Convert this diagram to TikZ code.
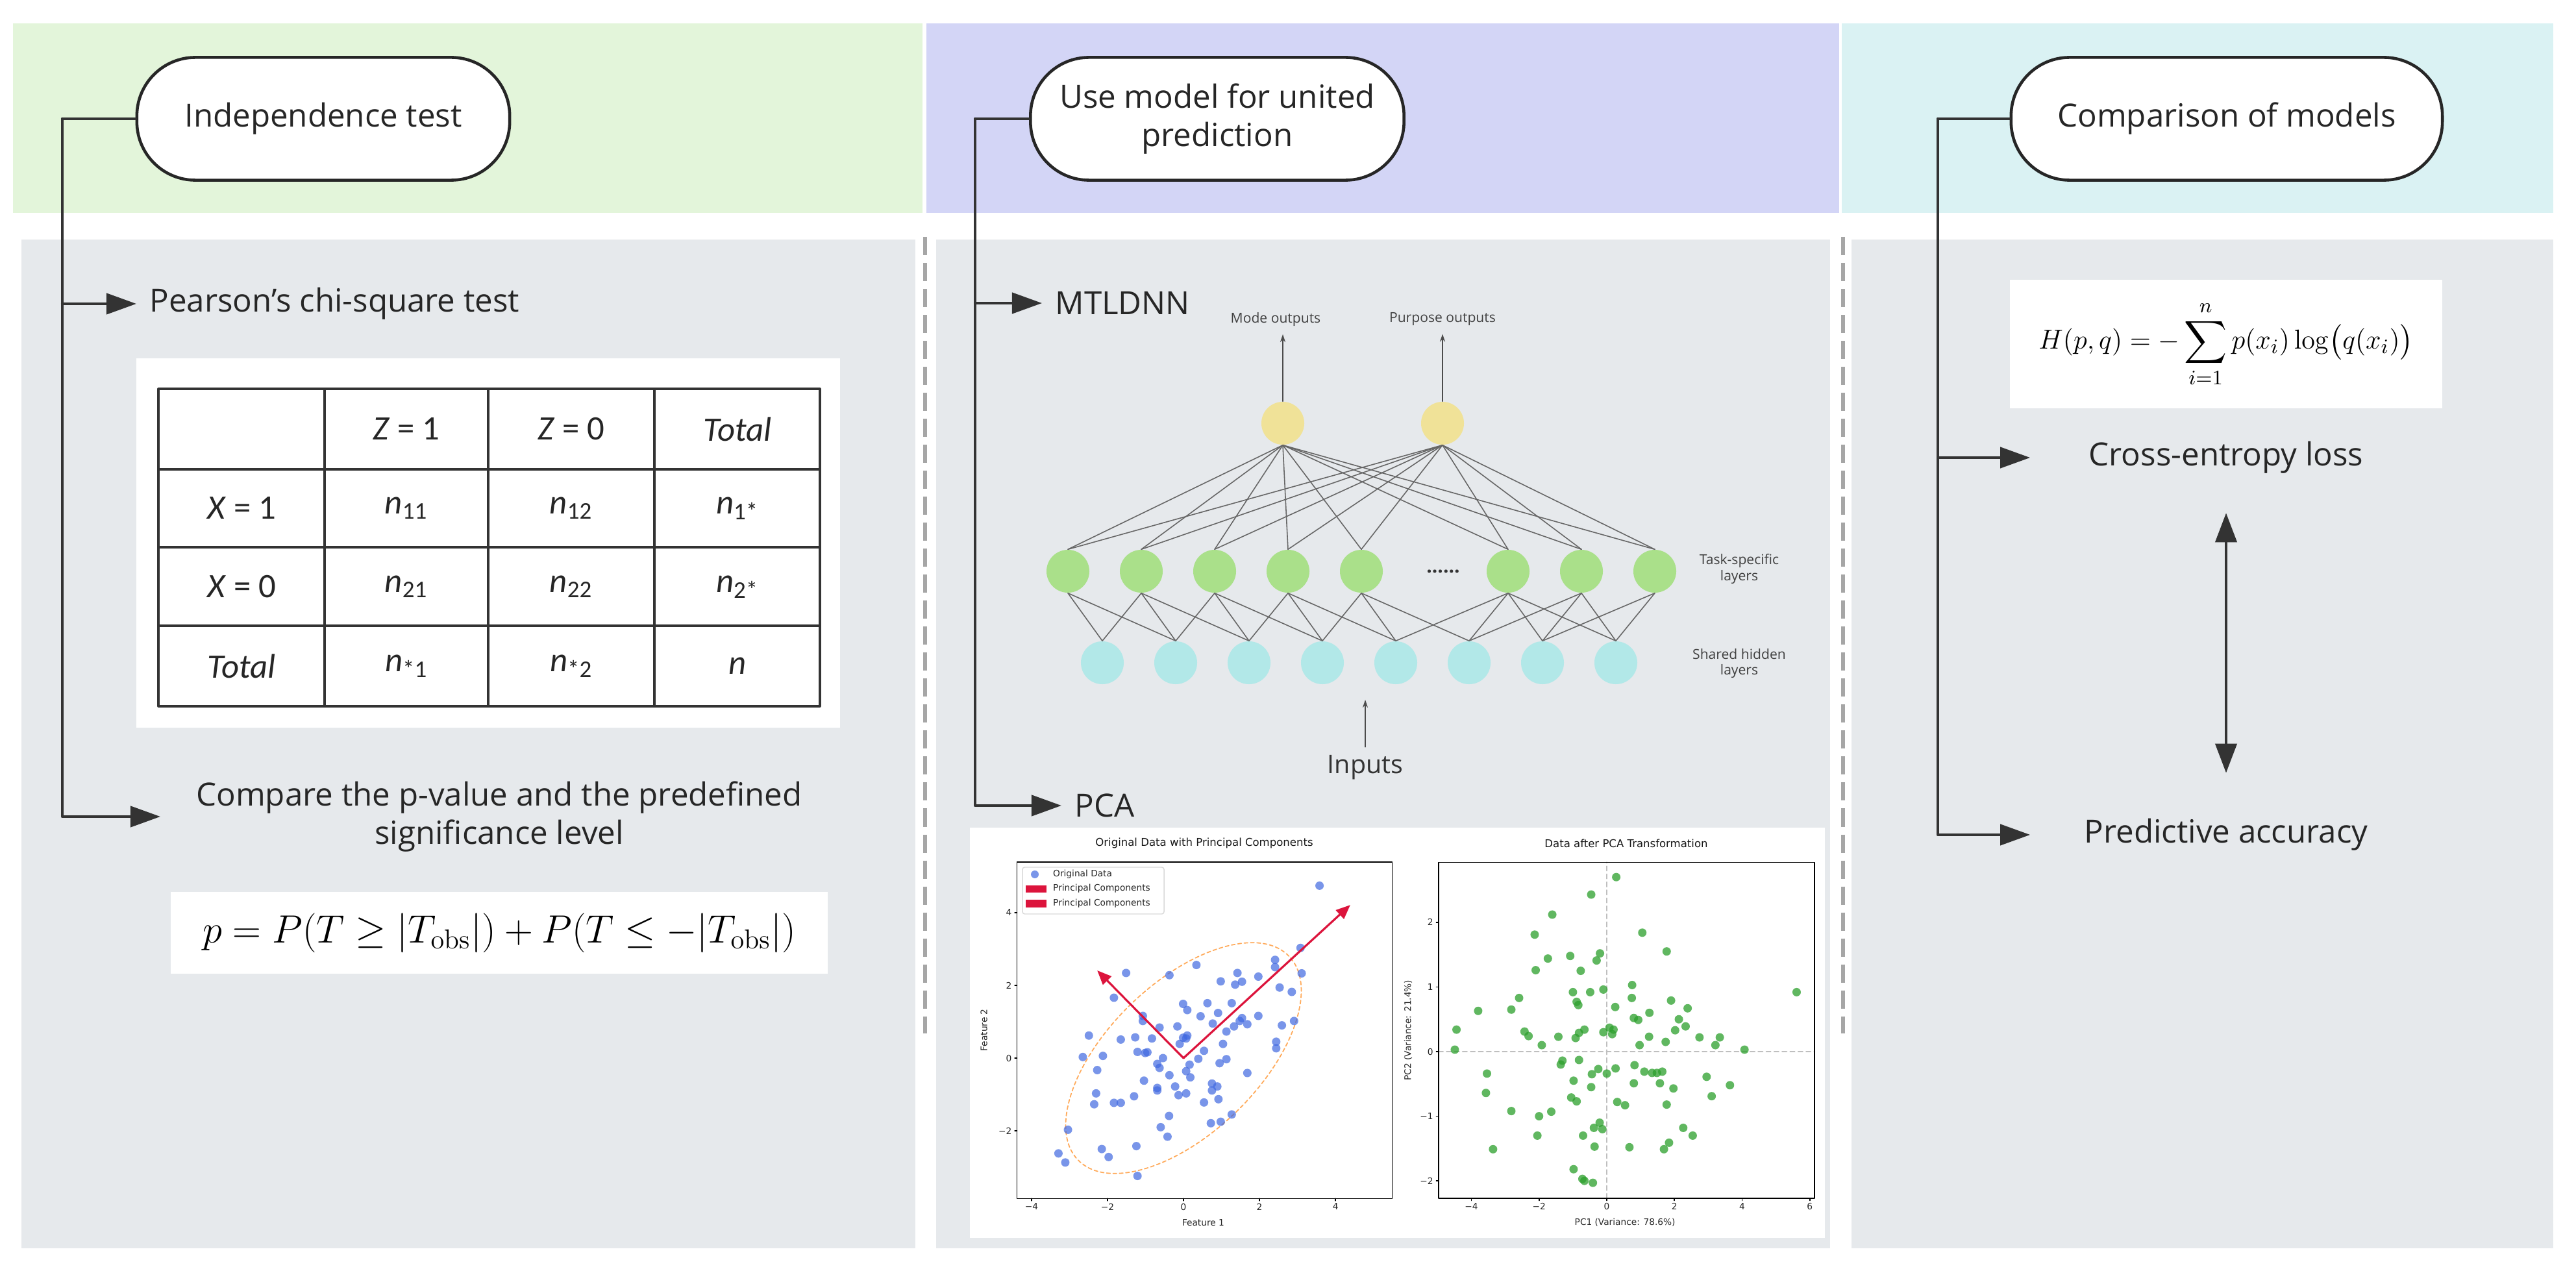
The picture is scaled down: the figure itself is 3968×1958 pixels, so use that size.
\documentclass[tikz,border=0pt]{standalone}
\usepackage{amsmath,amssymb}
\usepackage[no-math]{fontspec}
\setmainfont{Open Sans}
\newfontfamily\tabfont{Carlito}
\newfontfamily\plotfont{DejaVu Sans}
\usetikzlibrary{arrows.meta}

\definecolor{hdgreen}{RGB}{227,245,218}
\definecolor{hdblue}{RGB}{211,213,246}
\definecolor{hdcyan}{RGB}{218,242,243}
\definecolor{panelgray}{RGB}{230,233,236}
\definecolor{nnyellow}{RGB}{240,226,152}
\definecolor{nngreen}{RGB}{170,224,138}
\definecolor{nncyan}{RGB}{178,232,232}
\definecolor{ptblue}{RGB}{65,105,225}
\definecolor{ptgreen}{RGB}{44,160,44}
\definecolor{pcred}{RGB}{220,20,60}
\definecolor{ellorange}{RGB}{255,170,90}

\begin{document}
\begin{tikzpicture}[x=0.01cm,y=-0.01cm,line cap=round,line join=round,
		topic/.style={draw=black!85,line width=1.3pt,fill=white,rounded corners=0.9cm,minimum height=1.89cm,align=center,text=black!85,font=\fontsize{14}{17}\selectfont},
		trunk/.style={draw=black!80,line width=1.2pt},
		branch/.style={trunk,-{Triangle[length=0.46cm,width=0.32cm]}},
		itemtext/.style={text=black!85,font=\fontsize{14}{17}\selectfont,inner xsep=0.2cm,inner ysep=0.1cm,align=center},
		divider/.style={draw=black!35,line width=1.6pt,dash pattern=on 0.28cm off 0.12cm,line cap=butt},
		cell/.style={font=\tabfont\fontsize{15}{18}\selectfont,text=black!85},
		tabline/.style={draw=black!80,line width=0.9pt},
		neuron/.style={circle,minimum size=0.66cm,inner sep=0pt},
		wire/.style={draw=black!60,line width=0.45pt},
		nnarrow/.style={draw=black!70,line width=0.45pt,-{Stealth[length=0.12cm,width=0.08cm]}},
		nntext/.style={text=black!75,font=\fontsize{6}{7.1}\selectfont,align=center},
		plottext/.style={text=black!85,font=\plotfont\fontsize{3.9}{4.7}\selectfont,inner sep=1pt},
		plottitle/.style={text=black!90,font=\plotfont\fontsize{4.7}{5.6}\selectfont},
		plotframe/.style={draw=black,line width=0.45pt},
		bluedot/.style={fill=ptblue,fill opacity=0.7},
		greendot/.style={fill=ptgreen,fill opacity=0.75},
		pcarrow/.style={draw=pcred,line width=0.9pt,-{Triangle[length=0.22cm,width=0.18cm]}}]%three columns
	\fill[white] (0,0) rectangle (3968,1958);
	\useasboundingbox (0,0) rectangle (3968,1958);
	\fill[hdgreen] (20,36) rectangle (1421,328);
	\fill[hdblue] (1427,36) rectangle (2833,328);
	\fill[hdcyan] (2837,36) rectangle (3933,328);
	\fill[panelgray] (33,369) rectangle (1410,1923);
	\fill[panelgray] (1442,369) rectangle (2819,1923);
	\fill[panelgray] (2852,369) rectangle (3933,1923);
	\draw[divider] (1425,365) -- (1425,1592);
	\draw[divider] (2839,365) -- (2839,1592);

	% independence test
	\node[topic,minimum width=5.74cm] (indep) at (498,183) {Independence test};
	\coordinate (trunkL) at (96,183);
	\node[itemtext,anchor=west] (pearson) at (210,468) {Pearson's chi-square test};
	\node[itemtext,minimum width=10.42cm] (pvalue) at (769,1258) {Compare the p-value and the predefined\\significance level};
	\draw[trunk] (indep.west) -- (trunkL);
	\draw[branch] (trunkL) |- (pvalue.west);
	\draw[branch] (trunkL |- pearson.west) -- (pearson.west);

	\fill[white] (210,552) rectangle (1294,1121);
	\draw[tabline] (244,599) rectangle (1263,1088);
	\foreach \x in {500,752,1008}
		\draw[tabline] (\x,599) -- (\x,1088);
	\foreach \y in {723,843,964}
		\draw[tabline] (244,\y) -- (1263,\y);
	\node[cell] (zone) at (626,661) {\textit{Z} = 1};
	\node[cell] (zzero) at (880,661) {\textit{Z} = 0};
	\node[cell] (ztot) at (1136,661) {\textit{Total}};
	\node[cell] (xone) at (372,783) {\textit{X} = 1};
	\node[cell] (n11) at (626,783) {\textit{n}\textsubscript{11}};
	\node[cell] (n12) at (880,783) {\textit{n}\textsubscript{12}};
	\node[cell] (n1s) at (1136,783) {\textit{n}\textsubscript{1*}};
	\node[cell] (xzero) at (372,904) {\textit{X} = 0};
	\node[cell] (n21) at (626,904) {\textit{n}\textsubscript{21}};
	\node[cell] (n22) at (880,904) {\textit{n}\textsubscript{22}};
	\node[cell] (n2s) at (1136,904) {\textit{n}\textsubscript{2*}};
	\node[cell] (xtot) at (372,1026) {\textit{Total}};
	\node[cell] (ns1) at (626,1026) {\textit{n}\textsubscript{*1}};
	\node[cell] (ns2) at (880,1026) {\textit{n}\textsubscript{*2}};
	\node[cell] (nall) at (1136,1026) {\textit{n}};

	\node[fill=white,minimum width=10.12cm,minimum height=1.25cm,font=\fontsize{17}{20}\selectfont] (pform) at (769,1437)
		{$p = P(T \geq |T_{\mathrm{obs}}|) + P(T \leq -|T_{\mathrm{obs}}|)$};

	% united prediction
	\node[topic,minimum width=5.75cm] (united) at (1875,183) {Use model for united\\prediction};
	\coordinate (trunkM) at (1502,183);
	\node[itemtext,anchor=west] (mtl) at (1605,467) {MTLDNN};
	\node[itemtext,anchor=west] (pca) at (1635,1241) {PCA};
	\draw[trunk] (united.west) -- (trunkM);
	\draw[branch] (trunkM) |- (pca.west);
	\draw[branch] (trunkM |- mtl.west) -- (mtl.west);

	\node[neuron,fill=nnyellow] (y1) at (1976,652) {};
	\node[neuron,fill=nnyellow] (y2) at (2222,652) {};
	\foreach \i/\x in {1/1645,2/1758,3/1871,4/1984,5/2097,6/2323,7/2436,8/2549}
		\node[neuron,fill=nngreen] (g\i) at (\x,880) {};
	\foreach \i in {1,...,8}
		\node[neuron,fill=nncyan] (c\i) at ({1698+113*(\i-1)},1021) {};
	\node[font=\fontsize{8.5}{10}\selectfont\bfseries,text=black!80] (gdots) at (2223,880) {......};
	\foreach \o in {y1,y2}
		\foreach \i in {1,...,8}
			\draw[wire] (\o.south) -- (g\i.north);
	\foreach \i/\j in {1/1,1/2,2/1,2/2,2/3,3/2,3/3,3/4,4/3,4/4,4/5,5/4,5/5,5/6,6/5,6/6,6/7,6/8,7/6,7/7,7/8,8/7,8/8}
		\draw[wire] (g\i.south) -- (c\j.north);
	\node[nntext] (modeout) at (1965,492) {Mode outputs};
	\node[nntext] (purpout) at (2222,492) {Purpose outputs};
	\draw[nnarrow] (y1.north) -- (y1.north |- modeout.south);
	\draw[nnarrow] (y2.north) -- (y2.north |- purpout.south);
	\node[nntext] (tasklbl) at (2679,876) {Task-specific\\layers};
	\node[nntext] (sharedlbl) at (2679,1022) {Shared hidden\\layers};
	\node[text=black!80,font=\fontsize{11.2}{13}\selectfont] (inputs) at (2103,1182) {Inputs};
	\coordinate (intip) at (2103,1078);
	\draw[nnarrow] (inputs.north) -- (intip);

	\fill[white] (1494,1275) rectangle (2811,1907);
	\node[plottitle] (otitle) at (1855,1299) {Original Data with Principal Components};
	\node[plottitle] (ptitle) at (2505,1299) {Data after PCA Transformation};
	\begin{scope}[shift={(1823,1630)},x=0.585cm,y=0.56cm]
		\draw[ellorange,line width=0.5pt,dash pattern=on 1.6pt off 1.2pt,rotate=44] (0,0) ellipse [x radius=3.86,y radius=2.07];
		\foreach \p in {(3.58,4.74),(-1.51,2.34),(-0.37,2.28),(0.34,2.56),(1.42,2.34),(0.98,2.11),(1.36,2.02),(1.54,2.10),(1.97,2.24),(2.41,2.70),(2.41,2.50),(3.08,3.03),(3.11,2.33),(2.53,1.94),(2.85,1.82),(-1.83,1.66),(-0.01,1.49),(0.63,1.51),(0.10,1.32),(1.27,1.51),(0.45,1.15),(0.91,1.24),(-1.07,1.16),(-1.07,1.02),(-0.63,0.84),(-0.16,0.87),(0.77,0.95),(1.48,1.02),(1.54,1.10),(1.97,1.16),(1.68,0.93),(1.33,0.87),(1.13,0.73),(1.04,0.39),(2.59,0.90),(2.91,1.02),(-2.49,0.62),(-1.65,0.51),(-1.27,0.57),(-0.83,0.54),(-0.01,0.56),(0.10,0.62),(0.07,0.54),(-0.10,0.39),(-1.21,0.17),(-1.01,0.14),(-0.95,0.16),(0.54,0.20),(-2.12,0.06),(-2.65,0.03),(-0.54,0.00),(-0.69,-0.16),(-0.63,-0.27),(0.16,-0.18),(0.39,-0.02),(0.95,-0.14),(1.13,-0.03),(2.44,0.45),(2.44,0.27),(-2.27,-0.33),(0.07,-0.36),(-0.37,-0.47),(-1.04,-0.62),(0.18,-0.53),(1.68,-0.41),(-2.30,-0.97),(-0.69,-0.82),(-0.69,-0.89),(-0.22,-0.78),(-0.13,-1.02),(0.07,-0.97),(0.75,-0.70),(0.75,-0.89),(0.89,-0.78),(0.92,-1.13),(0.54,-1.22),(-1.30,-1.05),(-2.35,-1.27),(-1.83,-1.23),(-1.65,-1.23),(-0.38,-1.59),(1.27,-1.55),(0.72,-1.79),(0.98,-1.75),(-0.60,-1.90),(-0.42,-2.16),(-3.04,-1.97),(-2.15,-2.50),(-1.24,-2.42),(-3.29,-2.62),(-1.97,-2.72),(-3.11,-2.87),(-1.21,-3.24)}
			\fill[bluedot] \p circle (0.065cm);
		\draw[pcarrow] (0,0) -- (4.39,4.21);
		\draw[pcarrow] (0,0) -- (-2.27,2.41);
		\draw[plotframe] (-4.38,-3.86) rectangle (5.49,5.39);
		\foreach \t/\s in {-4/−4,-2/−2,0/0,2/2,4/4}{
			\draw[plotframe] (\t,-3.86) -- ++(0,-1pt);
			\node[plottext,anchor=north] at (\t,-3.92) {\s};
		}
		\foreach \t/\s in {-2/−2,0/0,2/2,4/4}{
			\draw[plotframe] (-4.38,\t) -- ++(-1pt,0);
			\node[plottext,anchor=east] at (-4.45,\t) {\s};
		}
		\node[plottext] (fone) at (0.52,-4.52) {Feature 1};
		\node[plottext,rotate=90] (ftwo) at (-5.25,0.77) {Feature 2};
	\end{scope}
	\node[draw=black!15,fill=white,fill opacity=0.85,rounded corners=1pt,minimum width=2.18cm,minimum height=0.72cm] (legend) at (1684,1372) {};
	\fill[ptblue,fill opacity=0.7] (1594,1347) circle (0.06cm);
	\fill[pcred] (1580,1364) rectangle (1612,1375);
	\fill[pcred] (1580,1386) rectangle (1612,1398);
	\node[plottext,anchor=west] (legorig) at (1618,1347) {Original Data};
	\node[plottext,anchor=west] (legpca) at (1618,1369) {Principal Components};
	\node[plottext,anchor=west] (legpcb) at (1618,1392) {Principal Components};

	\begin{scope}[shift={(2475,1620)},x=0.521cm,y=0.995cm]
		\draw[black!25,line width=0.6pt,dash pattern=on 2pt off 1.5pt] (0,-2.27) -- (0,2.93);
		\draw[black!25,line width=0.6pt,dash pattern=on 2pt off 1.5pt] (-4.97,0) -- (6.14,0);
		\foreach \p in {(0.28,2.70),(-0.46,2.43),(-1.61,2.12),(-2.13,1.81),(1.05,1.84),(1.77,1.55),(-1.74,1.44),(-1.08,1.48),(-0.20,1.52),(-0.30,1.41),(-0.77,1.25),(-2.10,1.26),(0.75,1.03),(-1.00,0.92),(-0.49,0.92),(-0.10,0.96),(-2.59,0.83),(0.74,0.83),(1.90,0.79),(-0.89,0.77),(-0.84,0.72),(0.25,0.69),(-3.80,0.63),(-2.82,0.65),(2.39,0.67),(1.26,0.60),(0.80,0.52),(0.93,0.49),(2.13,0.50),(2.33,0.39),(-4.44,0.34),(-2.43,0.31),(-2.31,0.24),(-1.43,0.23),(-0.82,0.29),(-0.66,0.34),(-0.10,0.30),(0.08,0.37),(0.20,0.34),(0.16,0.27),(2.02,0.33),(1.25,0.23),(-0.92,0.21),(2.74,0.22),(3.34,0.22),(-1.92,0.10),(0.97,0.10),(1.74,0.15),(3.21,0.10),(4.07,0.03),(-4.49,0.03),(-1.31,-0.14),(-0.82,-0.13),(-1.36,-0.20),(0.82,-0.21),(-0.25,-0.27),(0.26,-0.26),(1.11,-0.31),(1.34,-0.33),(1.48,-0.33),(1.64,-0.31),(-0.44,-0.35),(0.00,-0.34),(-3.54,-0.34),(2.95,-0.39),(-0.98,-0.45),(0.80,-0.49),(1.57,-0.49),(3.64,-0.52),(-0.46,-0.55),(1.97,-0.57),(-3.57,-0.64),(3.10,-0.69),(-1.05,-0.71),(-0.89,-0.77),(0.31,-0.78),(0.54,-0.83),(1.77,-0.82),(-2.82,-0.92),(-1.64,-0.93),(-2.00,-1.00),(-0.21,-1.10),(-0.38,-1.18),(-0.13,-1.20),(2.26,-1.18),(-0.70,-1.30),(2.54,-1.30),(-2.05,-1.30),(1.84,-1.41),(-0.36,-1.47),(0.67,-1.48),(-3.36,-1.51),(1.69,-1.51),(-0.98,-1.82),(-0.72,-1.97),(-0.66,-2.00),(-0.41,-2.03),(5.61,0.92)}
			\fill[greendot] \p circle (0.065cm);
		\draw[plotframe] (-4.97,-2.27) rectangle (6.14,2.93);
		\foreach \t/\s in {-4/−4,-2/−2,0/0,2/2,4/4,6/6}{
			\draw[plotframe] (\t,-2.27) -- ++(0,-1pt);
			\node[plottext,anchor=north] at (\t,-2.30) {\s};
		}
		\foreach \t/\s in {-2/−2,-1/−1,0/0,1/1,2/2}{
			\draw[plotframe] (-4.97,\t) -- ++(-1pt,0);
			\node[plottext,anchor=east] at (-5.05,\t) {\s};
		}
		\node[plottext] (pcone) at (0.54,-2.64) {PC1 (Variance: 78.6\%)};
		\node[plottext,rotate=90] (pctwo) at (-5.87,0.33) {PC2 (Variance: 21.4\%)};
	\end{scope}

	% comparison of models
	\node[topic,minimum width=6.64cm] (compare) at (3430,183) {Comparison of models};
	\coordinate (trunkR) at (2985,183);
	\node[fill=white,minimum width=6.65cm,minimum height=1.98cm,font=\fontsize{13}{16}\selectfont] (hform) at (3429,530)
		{$\displaystyle H(p,q) =-\sum_{i=1}^{n} p(x_i)\log\bigl(q(x_i)\bigr)$};
	\node[itemtext,minimum width=6.02cm] (xent) at (3429,705) {Cross-entropy loss};
	\node[itemtext,minimum width=6.02cm] (acc) at (3429,1286) {Predictive accuracy};
	\draw[trunk] (compare.west) -- (trunkR);
	\draw[branch] (trunkR) |- (acc.west);
	\draw[branch] (trunkR |- xent.west) -- (xent.west);
	\draw[trunk,{Triangle[length=0.45cm,width=0.33cm]}-{Triangle[length=0.45cm,width=0.33cm]},shorten <=0.5cm,shorten >=0.6cm] (xent.south) -- (acc.north);
\end{tikzpicture}
\end{document}
